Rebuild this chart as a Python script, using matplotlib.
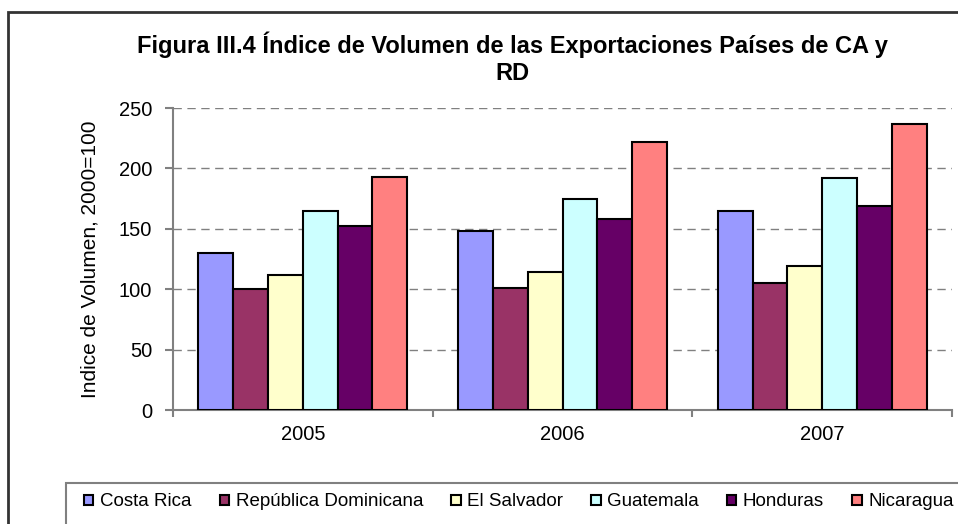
# Indice de volumen de exportaciones, paises de CA y RD
import matplotlib.pyplot as plt
from matplotlib.patches import Rectangle
import numpy as np

plt.rcParams['font.family'] = ['Liberation Sans', 'DejaVu Sans']

years = ['2005', '2006', '2007']
paises = ['Costa Rica', 'República Dominicana', 'El Salvador',
          'Guatemala', 'Honduras', 'Nicaragua']
costa_rica = [130, 148, 165]
rep_dominicana = [100, 101, 105]
el_salvador = [112, 114, 119]
guatemala = [165, 175, 192]
honduras = [152, 158, 169]
nicaragua = [193, 222, 237]
series = [costa_rica, rep_dominicana, el_salvador, guatemala, honduras, nicaragua]
colores = ['#9999FF', '#993366', '#FFFFCC', '#CCFFFF', '#660066', '#FF8080']

fig = plt.figure(figsize=(9.58, 5.24), dpi=100)
W, H = 958, 524

# chart area frame (cut off on the right and bottom)
fig.patches.append(Rectangle((8 / W, -0.1), 1.2, 1 - 12 / H + 0.1,
                             transform=fig.transFigure, fill=False,
                             edgecolor='#333333', linewidth=2))
# legend frame
fig.patches.append(Rectangle((66 / W, -0.1), 1.2, 1 - 483 / H + 0.1,
                             transform=fig.transFigure, fill=False,
                             edgecolor='#808080', linewidth=1.5))

ax = fig.add_axes([173 / W, 1 - 410 / H, 779 / W, 302 / H])

x = np.arange(len(years))
w = 0.134
for j, (vals, nombre) in enumerate(zip(series, paises)):
    ax.bar(x + (j - 2.5) * w, vals, w, color=colores[j], edgecolor='black',
           linewidth=1.5, label=nombre, zorder=3)

ax.set_xlim(-0.5, 2.5)
ax.set_ylim(0, 250)
ax.set_yticks(range(0, 251, 50))
ax.set_xticks([-0.5, 0.5, 1.5, 2.5])
ax.set_xticklabels([])
ax.set_xticks(x, minor=True)
ax.set_xticklabels(years, minor=True, fontsize=14.5)
ax.tick_params(axis='x', which='minor', length=0, pad=11)
ax.tick_params(axis='x', which='major', length=5, color='#808080', width=1.5)
ax.tick_params(axis='y', length=6, color='#808080', width=1.5, labelsize=14.5, pad=9)

ax.grid(axis='y', linestyle=(0, (6, 4)), color='#808080', linewidth=1, zorder=0)
for s in ['top', 'right']:
    ax.spines[s].set_visible(False)
for s in ['left', 'bottom']:
    ax.spines[s].set_color('#808080')
    ax.spines[s].set_linewidth(1.5)

ax.set_ylabel('Indice de Volumen, 2000=100', fontsize=15, labelpad=14)

fig.text(0.535, 1 - 45 / H,
         'Figura III.4 Índice de Volumen de las Exportaciones Países de CA y',
         ha='center', va='center', fontsize=17, fontweight='bold')
fig.text(0.535, 1 - 73 / H, 'RD', ha='center', va='center',
         fontsize=17, fontweight='bold')

fig.legend(loc='center left', bbox_to_anchor=(84 / W, 1 - 502 / H), ncol=6,
           frameon=False, fontsize=13.5, handlelength=0.5, handleheight=0.5,
           handletextpad=0.35, columnspacing=1.5, borderaxespad=0, borderpad=0)

plt.savefig('out.png', dpi=100)
